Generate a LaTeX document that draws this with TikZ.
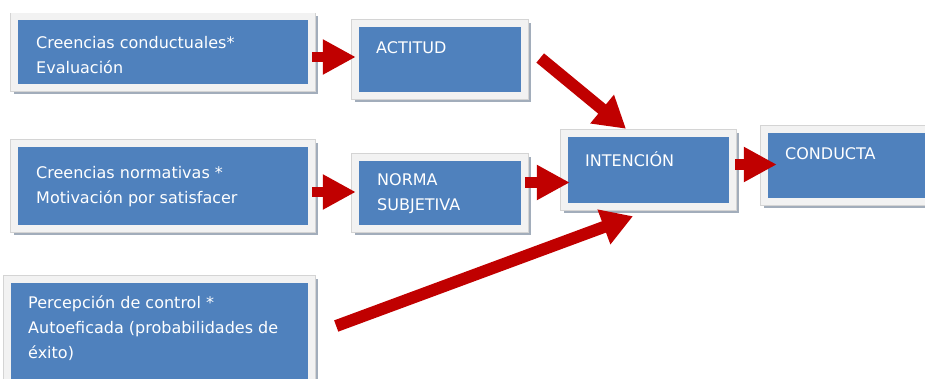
\documentclass[tikz,border=0pt]{standalone}
\usepackage{fontspec}
\setmainfont{DejaVu Sans}
\usetikzlibrary{arrows.meta}
\definecolor{boxblue}{HTML}{4F81BD}
\definecolor{framecol}{HTML}{F2F2F2}
\definecolor{framelinecol}{HTML}{D4D4D4}
\definecolor{shadowcol}{HTML}{A2ADBB}
\definecolor{arrowred}{HTML}{C00000}
\tikzset{
  bluebox/.style={rectangle, inner sep=0pt, fill=boxblue, draw=none,
    preaction={draw=shadowcol, fill=shadowcol, line width=14pt,
      transform canvas={shift={(2.5pt,-3pt)}}},
    preaction={draw=framelinecol, line width=15.4pt},
    preaction={draw=framecol, line width=14pt}},
  boxtext/.style={inner sep=0pt, anchor=north west, align=left, text=white,
    font=\fontsize{16}{25}\selectfont},
  redarrow/.style={draw=arrowred, line width=10.5pt,
    -{Triangle[length=33pt,width=33pt]}},
  diagarrow/.style={draw=arrowred, line width=12pt,
    -{Triangle[length=31pt,width=35pt]}},
}
\begin{document}
\begin{tikzpicture}[x=1pt,y=-1pt]
\useasboundingbox (0,0) rectangle (925,379);
% boxes
\node[bluebox, minimum width=290pt, minimum height=63.5pt] (b1) at (163,52.25) {};
\node[bluebox, minimum width=162pt, minimum height=65pt] (act) at (440,59.5) {};
\node[bluebox, minimum width=290pt, minimum height=78pt] (b2) at (163,186) {};
\node[bluebox, minimum width=162pt, minimum height=64pt] (norma) at (440,193) {};
\node[bluebox, minimum width=161pt, minimum height=66pt] (int) at (648.5,170) {};
\node[bluebox, minimum width=172pt, minimum height=65pt] (cond) at (854,165.5) {};
\node[bluebox, minimum width=297pt, minimum height=112pt] (b3) at (159.5,339) {};
% texts
\node[boxtext] (t1) at (36,30.5) {\strut Creencias conductuales*\\Evaluación};
\node[boxtext] (tact) at (376,35.5) {\strut ACTITUD};
\node[boxtext] (t2) at (36,160.5) {\strut Creencias normativas *\\Motivación por satisfacer};
\node[boxtext] (tnorma) at (377,167.5) {\strut NORMA\\SUBJETIVA};
\node[boxtext] (tint) at (585,149.2) {\strut INTENCIÓN};
\node[boxtext] (tcond) at (785,141.5) {\strut CONDUCTA};
\node[boxtext] (t3) at (28,290.5) {\strut Percepción de control *\\Autoeficada (probabilidades de\\éxito)};
% arrows
\draw[redarrow] ([xshift=4pt,yshift=-4.75pt]b1.east) -- ([xshift=-3pt,yshift=2.5pt]act.west);
\draw[redarrow] ([xshift=4pt,yshift=-6pt]b2.east) -- ([xshift=-3pt,yshift=1pt]norma.west);
\draw[redarrow] ([xshift=4pt,yshift=10.5pt]norma.east) -- ([xshift=2pt,yshift=-12.5pt]int.west);
\draw[redarrow] ([xshift=6pt,yshift=5.5pt]int.east) -- ([xshift=9pt,yshift=1pt]cond.west);
\draw[diagarrow] ([xshift=19pt,yshift=1.5pt]act.east) -- ([xshift=-22.5pt,yshift=8pt]int.north);
\draw[diagarrow] ([xshift=28pt,yshift=13pt]b3.east) -- ([xshift=-15.5pt,yshift=-13pt]int.south);
\end{tikzpicture}
\end{document}
